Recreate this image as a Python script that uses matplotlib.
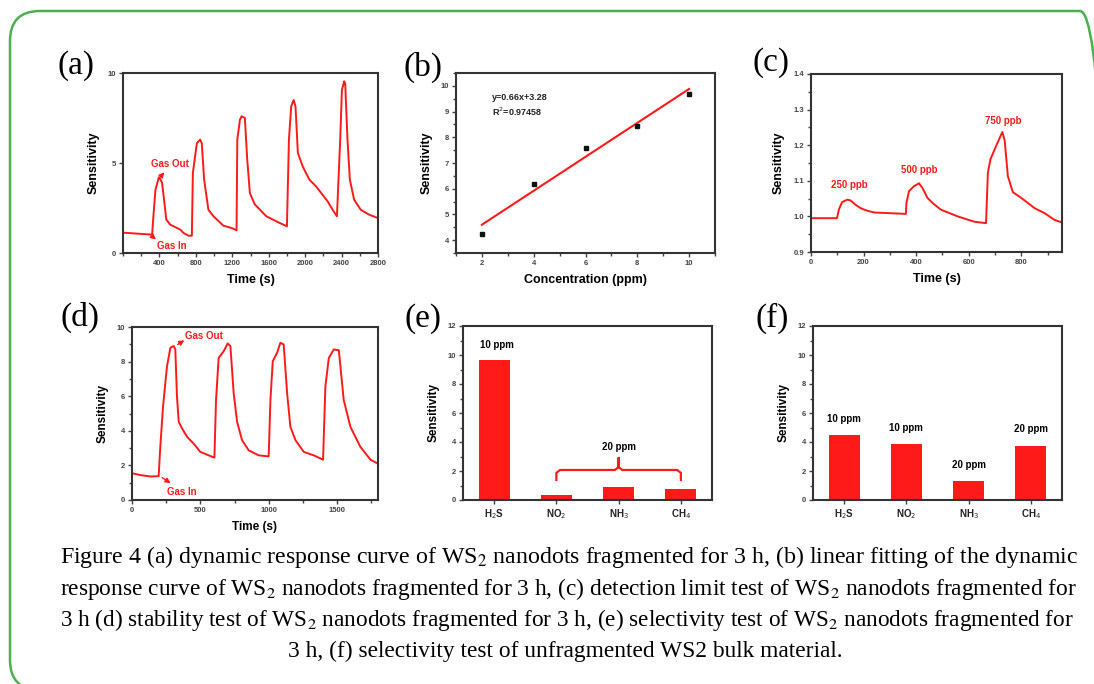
#!/usr/bin/env python3
import matplotlib
matplotlib.use("Agg")
import matplotlib.pyplot as plt
from matplotlib.patches import FancyBboxPatch
from matplotlib.ticker import MultipleLocator

plt.rcParams["font.family"] = ["Liberation Sans", "DejaVu Sans"]

# ---- data ----
# (a) dynamic response, 3 h WS2 nanodots
a_time = [0, 320, 331, 356, 393, 400, 429, 476, 520, 629, 665, 720, 756,
          767, 811, 847, 865, 891, 938, 993, 1102, 1193, 1247,
          1255, 1284, 1302, 1338, 1364, 1393, 1447, 1574, 1720, 1800,
          1822, 1847, 1873, 1894, 1920, 1974, 2047, 2120, 2247, 2302, 2349,
          2385, 2404, 2429, 2440, 2465, 2491, 2538, 2611, 2702, 2800]
a_sens = [1.13, 1.02, 1.85, 3.5, 4.2, 4.2, 3.9, 1.85, 1.57, 1.3, 1.11, 0.96, 0.96,
          4.44, 6.1, 6.3, 6.1, 4.07, 2.4, 2.04, 1.52, 1.39, 1.26,
          6.3, 7.4, 7.6, 7.5, 5.2, 3.33, 2.7, 2.04, 1.67, 1.48,
          6.3, 8.15, 8.5, 8.15, 5.56, 4.8, 4.07, 3.7, 2.87, 2.4, 2.04,
          6.3, 9.07, 9.54, 9.4, 6.3, 4.07, 2.96, 2.4, 2.13, 1.94]

# (b) linear fit
b_conc = [2, 4, 6, 8, 10]
b_sens = [4.25, 6.2, 7.58, 8.45, 9.7]
b_slope, b_icpt = 0.66, 3.28

# (c) detection limit
c_time = [0, 99, 106, 118, 138, 150, 169, 189, 214, 240, 303, 361,
          363, 373, 392, 411, 424, 443, 462, 494, 558, 622, 666,
          673, 683, 705, 728, 737, 749, 768, 800, 851, 889, 927, 955]
c_sens = [0.995, 0.995, 1.019, 1.04, 1.047, 1.045, 1.033, 1.023, 1.016, 1.011, 1.009, 1.007,
          1.038, 1.071, 1.085, 1.093, 1.08, 1.052, 1.038, 1.019, 1.0, 0.985, 0.981,
          1.123, 1.161, 1.199, 1.237, 1.213, 1.113, 1.068, 1.052, 1.023, 1.009, 0.99, 0.983]
c_labels = ["250 ppb", "500 ppb", "750 ppb"]
c_label_x = [144, 411, 730]
c_label_y = [1.088, 1.131, 1.267]

# (d) stability
d_time = [0, 61, 134, 195, 207, 227, 256, 281, 305, 317, 329, 342, 366, 403, 451, 500, 561, 603,
          615, 634, 671, 700, 720, 744, 769, 805, 854, 927, 1000,
          1013, 1030, 1061, 1086, 1110, 1135, 1159, 1196, 1257, 1330, 1398,
          1415, 1440, 1476, 1513, 1525, 1549, 1598, 1671, 1745, 1800]
d_sens = [1.55, 1.44, 1.36, 1.38, 3.07, 5.4, 7.73, 8.8, 8.9, 8.7, 5.98, 4.52, 4.14, 3.65, 3.26, 2.78, 2.58, 2.45,
          5.79, 8.21, 8.6, 9.05, 8.9, 6.17, 4.52, 3.46, 2.87, 2.58, 2.52,
          5.79, 8.02, 8.5, 9.09, 8.99, 6.17, 4.23, 3.46, 2.78, 2.58, 2.33,
          6.56, 8.21, 8.7, 8.66, 7.73, 5.79, 4.23, 3.07, 2.33, 2.1]

# (e) / (f) selectivity
gases = ["H$_2$S", "NO$_2$", "NH$_3$", "CH$_4$"]
e_sens = [9.66, 0.34, 0.87, 0.78]
f_sens = [4.48, 3.86, 1.31, 3.75]
f_conc = ["10 ppm", "10 ppm", "20 ppm", "20 ppm"]

caption = [
    "Figure 4 (a) dynamic response curve of WS$_2$ nanodots fragmented for 3 h, (b) linear fitting of the dynamic",
    "response curve of WS$_2$ nanodots fragmented for 3 h, (c) detection limit test of WS$_2$ nanodots fragmented for",
    "3 h (d) stability test of WS$_2$ nanodots fragmented for 3 h, (e) selectivity test of WS$_2$ nanodots fragmented for",
    "3 h, (f) selectivity test of unfragmented WS2 bulk material.",
]

RED = "#ff1a1a"
W, H = 1094, 684

fig = plt.figure(figsize=(W / 100, H / 100), dpi=100)


def box(l, t, r, b):
    return [l / W, 1 - b / H, (r - l) / W, (b - t) / H]


def style(ax, ylabel="Sensitivity", xlabel=None, lsize=9):
    for sp in ax.spines.values():
        sp.set_linewidth(1.5)
        sp.set_color("#333333")
    ax.tick_params(which="both", direction="out", top=False, right=False,
                   labelsize=5.5, colors="#444444", width=1)
    ax.tick_params(which="major", length=3, pad=2)
    ax.tick_params(which="minor", length=2.5)
    for lbl in ax.get_xticklabels() + ax.get_yticklabels():
        lbl.set_fontweight("bold")
    ax.set_ylabel(ylabel, fontsize=lsize, fontweight="bold", labelpad=6)
    if xlabel:
        ax.set_xlabel(xlabel, fontsize=lsize, fontweight="bold", labelpad=5)


def panel(x, y, s):
    fig.text(x / W, 1 - y / H, s, fontsize=24, family="Liberation Serif",
             ha="center", va="center")


ann = dict(arrowstyle="-|>,head_length=0.3,head_width=0.15", color=RED, lw=1)
txt = dict(color=RED, fontsize=7, fontweight="bold", ha="center", va="center")

# (a)
ax = fig.add_axes(box(123, 73, 378, 253))
ax.plot(a_time, a_sens, color=RED, lw=1.4)
ax.set_xlim(0, 2800)
ax.set_ylim(0, 10)
ax.set_xticks(range(400, 2801, 400))
ax.xaxis.set_minor_locator(MultipleLocator(200))
ax.set_yticks([0, 5, 10])
style(ax, xlabel="Time (s)")
ax.annotate("", xy=(475, 4.6), xytext=(405, 4.2), arrowprops=ann)
ax.text(520, 4.96, "Gas Out", **txt)
ax.annotate("", xy=(385, 0.65), xytext=(313, 0.96), arrowprops=ann)
ax.text(538, 0.37, "Gas In", **txt)
panel(76, 66, "(a)")

# (b)
ax = fig.add_axes(box(456, 73, 715, 253))
fit_x = [b_conc[0], b_conc[-1]]
ax.plot(fit_x, [b_slope * v + b_icpt for v in fit_x], color=RED, lw=1.5)
ax.plot(b_conc, b_sens, "s", color="#111111", ms=3)
ax.set_xlim(1, 11)
ax.set_ylim(3.5, 10.5)
ax.set_xticks(b_conc)
ax.xaxis.set_minor_locator(MultipleLocator(1))
ax.set_yticks(range(4, 11))
ax.yaxis.set_minor_locator(MultipleLocator(0.5))
style(ax, xlabel="Concentration (ppm)")
ax.text(2.4, 9.55, "y=%.2fx+%.2f" % (b_slope, b_icpt), fontsize=6.5, fontweight="bold",
        color="#222222", va="center")
ax.text(2.4, 9.0, "R$^2$=0.97458", fontsize=6.5, fontweight="bold", color="#222222", va="center")
panel(423, 67, "(b)")

# (c)
ax = fig.add_axes(box(811, 74, 1062, 252))
ax.plot(c_time, c_sens, color=RED, lw=1.4)
ax.set_xlim(0, 955)
ax.set_ylim(0.9, 1.4)
ax.set_xticks([0, 200, 400, 600, 800])
ax.xaxis.set_minor_locator(MultipleLocator(100))
ax.set_yticks([0.9, 1.0, 1.1, 1.2, 1.3, 1.4])
ax.yaxis.set_minor_locator(MultipleLocator(0.05))
style(ax, xlabel="Time (s)")
for s, x, y in zip(c_labels, c_label_x, c_label_y):
    ax.text(x, y, s, **txt)
panel(771, 63, "(c)")

# (d)
ax = fig.add_axes(box(132, 327, 378, 500))
ax.plot(d_time, d_sens, color=RED, lw=1.4)
ax.set_xlim(0, 1800)
ax.set_ylim(0, 10)
ax.set_xticks([0, 500, 1000, 1500])
ax.xaxis.set_minor_locator(MultipleLocator(250))
ax.set_yticks(range(0, 11, 2))
ax.yaxis.set_minor_locator(MultipleLocator(1))
style(ax, xlabel="Time (s)", lsize=8.5)
ax.annotate("", xy=(400, 9.32), xytext=(317, 8.9), arrowprops=ann)
ax.text(525, 9.48, "Gas Out", **txt)
ax.annotate("", xy=(300, 0.89), xytext=(203, 1.38), arrowprops=ann)
ax.text(366, 0.45, "Gas In", **txt)
panel(80, 317, "(d)")


def bars(ax, vals):
    xs = range(len(vals))
    ax.bar(xs, vals, width=0.5, color=RED)
    ax.set_xlim(-0.5, 3.5)
    ax.set_ylim(0, 12)
    ax.set_xticks(list(xs))
    ax.set_yticks(range(0, 13, 2))
    ax.yaxis.set_minor_locator(MultipleLocator(1))
    style(ax, lsize=8.5)
    ax.set_xticklabels(gases, fontsize=7, fontweight="bold", color="#222222")


# (e)
ax = fig.add_axes(box(463, 326, 712, 500))
bars(ax, e_sens)
ax.text(0.05, e_sens[0] + 1.05, "10 ppm", fontsize=7, fontweight="bold", ha="center", va="center")
# bracket over NO2..CH4
lo, mid, hi = 1, 2, 3
yb, yl, yt = 2.07, 1.38, 2.9
ax.plot([lo, lo, lo + 0.06, mid - 0.06, mid, mid, mid, mid + 0.06, hi - 0.06, hi, hi],
        [yl, yb - 0.2, yb, yb, yb + 0.2, yt, yb + 0.2, yb, yb, yb - 0.2, yl],
        color=RED, lw=1.6, solid_joinstyle="round")
ax.text(mid, 3.68, "20 ppm", fontsize=7, fontweight="bold", ha="center", va="center")
panel(423, 319, "(e)")

# (f)
ax = fig.add_axes(box(813, 326, 1062, 500))
bars(ax, f_sens)
for i, (v, s) in enumerate(zip(f_sens, f_conc)):
    ax.text(i, v + 1.12, s, fontsize=7, fontweight="bold", ha="center", va="center")
panel(772, 318, "(f)")

# caption: first three lines fitted to the full text width
cap_y = [557, 589, 620, 651]
renderer = fig.canvas.get_renderer()
base = 17.0
for i, (line, y) in enumerate(zip(caption, cap_y)):
    if i < 3:
        t = fig.text(60 / W, 1 - y / H, line, fontsize=base, family="Liberation Serif",
                     math_fontfamily="stix", ha="left", va="center")
        w = t.get_window_extent(renderer).width
        t.set_fontsize(base * 1018 / w)
    else:
        fig.text(565 / W, 1 - y / H, line, fontsize=16.8, family="Liberation Serif",
                 math_fontfamily="stix", ha="center", va="center")

# green rounded frame
frame = FancyBboxPatch((0.10, -0.06), 11.0, 6.79, boxstyle="round,pad=0,rounding_size=0.3",
                       transform=fig.dpi_scale_trans, fill=False, ec="#4caf50", lw=1.8)
fig.add_artist(frame)

fig.savefig("out.png", dpi=100)
